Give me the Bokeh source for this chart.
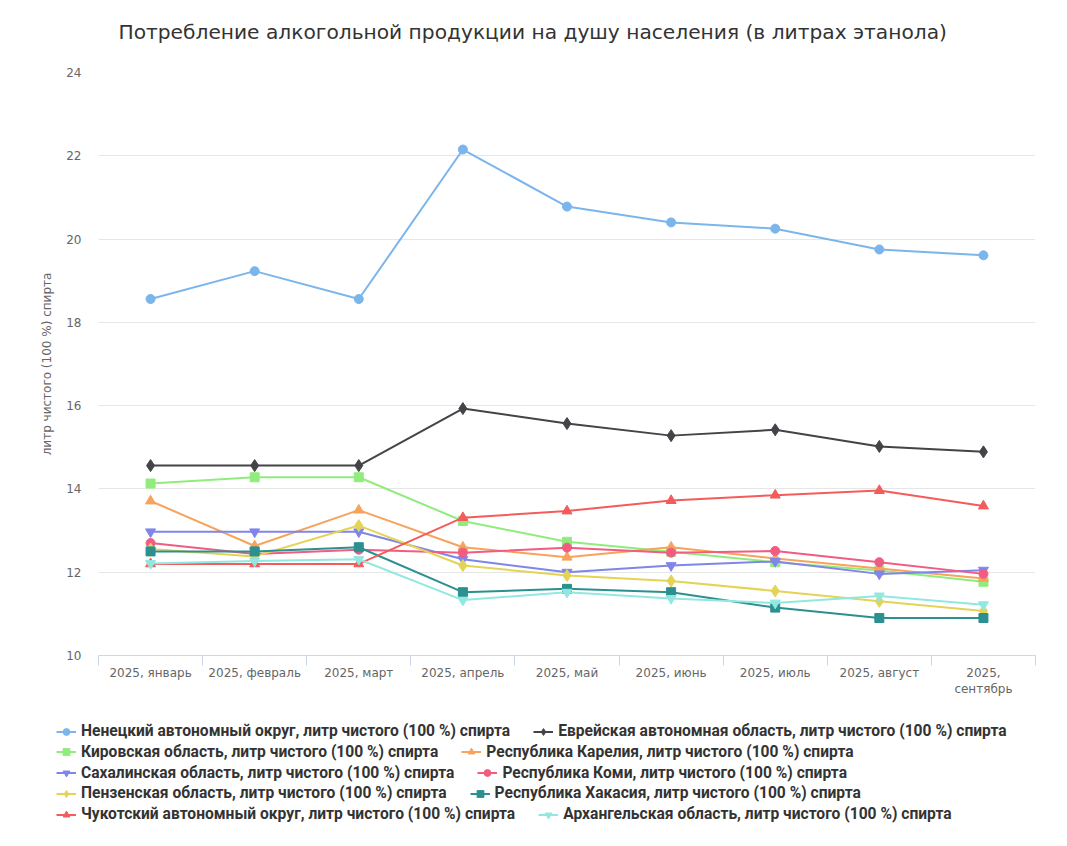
from bokeh.plotting import figure
from bokeh.models import Range1d, FixedTicker, Legend, LegendItem, ColumnDataSource
from bokeh.layouts import column
from bokeh.embed import file_html
from bokeh.resources import INLINE

# ---------------- data ----------------
months = ["2025, январь", "2025, февраль", "2025, март", "2025, апрель", "2025, май",
          "2025, июнь", "2025, июль", "2025, август", "2025,\nсентябрь"]

series_names = [
    "Ненецкий автономный округ, литр чистого (100 %) спирта",
    "Еврейская автономная область, литр чистого (100 %) спирта",
    "Кировская область, литр чистого (100 %) спирта",
    "Республика Карелия, литр чистого (100 %) спирта",
    "Сахалинская область, литр чистого (100 %) спирта",
    "Республика Коми, литр чистого (100 %) спирта",
    "Пензенская область, литр чистого (100 %) спирта",
    "Республика Хакасия, литр чистого (100 %) спирта",
    "Чукотский автономный округ, литр чистого (100 %) спирта",
    "Архангельская область, литр чистого (100 %) спирта",
]

nenets      = [18.56, 19.23, 18.56, 22.15, 20.78, 20.40, 20.25, 19.75, 19.61]
jewish      = [14.56, 14.56, 14.56, 15.93, 15.57, 15.28, 15.42, 15.02, 14.89]
kirov       = [14.13, 14.28, 14.28, 13.23, 12.73, 12.49, 12.24, 12.04, 11.77]
karelia     = [13.71, 12.63, 13.49, 12.60, 12.36, 12.60, 12.33, 12.09, 11.85]
sakhalin    = [12.97, 12.97, 12.97, 12.31, 12.00, 12.16, 12.26, 11.96, 12.05]
komi        = [12.70, 12.44, 12.54, 12.47, 12.59, 12.47, 12.51, 12.24, 11.96]
penza       = [12.56, 12.38, 13.12, 12.16, 11.92, 11.79, 11.55, 11.30, 11.07]
khakassia   = [12.50, 12.50, 12.60, 11.52, 11.60, 11.52, 11.15, 10.90, 10.90]
chukotka    = [12.20, 12.20, 12.20, 13.31, 13.47, 13.72, 13.85, 13.96, 13.59]
arkhangelsk = [12.21, 12.27, 12.31, 11.33, 11.52, 11.37, 11.26, 11.43, 11.22]

values = [nenets, jewish, kirov, karelia, sakhalin, komi, penza, khakassia, chukotka, arkhangelsk]

y_ticks = [10, 12, 14, 16, 18, 20, 22, 24]
title_text = "Потребление алкогольной продукции на душу населения (в литрах этанола)"
y_title = "литр чистого (100 %) спирта"

# ---------------- styles ----------------
colors = ["#7cb5ec", "#434348", "#90ed7d", "#f7a35c", "#8085e9",
          "#f15c80", "#e4d354", "#2b908f", "#f45b5b", "#91e8e1"]
markers = ["circle", "diamond", "square", "triangle", "inverted_triangle"] * 2
msizes = {"circle": 9, "diamond": 12, "square": 9, "triangle": 10, "inverted_triangle": 10}

W = 1060
H1 = 715                 # chart part
H2 = 125                 # legend strip
FL, FR, FT, FB = 98, 1035, 72, 655   # frame edges in page px

p = figure(width=W, height=H1, output_backend="svg", toolbar_location=None,
           x_range=Range1d(-0.5, len(months) - 0.5), y_range=Range1d(10, 24),
           min_border_left=FL, min_border_right=W - FR,
           min_border_top=FT, min_border_bottom=H1 - FB)
p.frame_align = False
p.outline_line_color = None
p.background_fill_color = "white"

# a blank second line lifts the title away from the plot area
p.title.text = title_text + "\n "
p.title.text_font = "DejaVu Sans"
p.title.text_font_size = "20.2px"
p.title.text_font_style = "normal"
p.title.text_color = "#333333"
p.title.text_line_height = 1.16
p.title.align = "left"
p.title.vertical_align = "middle"
p.title.offset = 20
p.title.standoff = 0

# x axis
xs = list(range(len(months)))
p.xaxis.ticker = FixedTicker(ticks=xs, minor_ticks=[i - 0.5 for i in range(len(months) + 1)])
p.xaxis.major_label_overrides = {i: m for i, m in enumerate(months)}
p.xaxis.major_tick_out = 0
p.xaxis.major_tick_in = 0
p.xaxis.minor_tick_out = 10
p.xaxis.minor_tick_in = 0
p.xaxis.minor_tick_line_color = "#ccd6eb"
p.xaxis.axis_line_color = "#ccd6eb"
p.xaxis.major_label_text_font = "DejaVu Sans"
p.xaxis.major_label_text_font_size = "12px"
p.xaxis.major_label_text_color = "#666666"
p.xaxis.major_label_standoff = 0
p.xgrid.grid_line_color = None

# y axis
p.yaxis.ticker = FixedTicker(ticks=y_ticks)
p.yaxis.axis_line_color = None
p.yaxis.major_tick_line_color = None
p.yaxis.minor_tick_line_color = None
p.yaxis.major_label_text_font = "DejaVu Sans"
p.yaxis.major_label_text_font_size = "12px"
p.yaxis.major_label_text_color = "#666666"
p.yaxis.major_label_standoff = 11
p.yaxis.axis_label = y_title
p.yaxis.axis_label_text_font = "DejaVu Sans"
p.yaxis.axis_label_text_font_size = "12px"
p.yaxis.axis_label_text_font_style = "normal"
p.yaxis.axis_label_text_color = "#666666"
p.yaxis.axis_label_standoff = 9
p.ygrid.grid_line_color = "#e6e6e6"
p.ygrid.grid_line_width = 1

sources = []
for vals, c, m in zip(values, colors, markers):
    src = ColumnDataSource(dict(x=xs, y=vals))
    sources.append(src)
    p.line("x", "y", source=src, line_color=c, line_width=2)
    p.scatter("x", "y", source=src, marker=m, size=msizes[m], fill_color=c, line_color=c)

# ---------------- legend strip ----------------
pl = figure(width=W, height=H2, output_backend="svg", toolbar_location=None,
            x_range=Range1d(0, 1), y_range=Range1d(0, 1),
            x_axis_type=None, y_axis_type=None,
            min_border_left=0, min_border_right=0, min_border_top=0, min_border_bottom=0)
pl.frame_align = False
pl.outline_line_color = None
pl.grid.grid_line_color = None

items = []
for name, src, c, m in zip(series_names, sources, colors, markers):
    lr = pl.line("x", "y", source=src, line_color=c, line_width=2, visible=False)
    sr = pl.scatter("x", "y", source=src, marker=m, size=msizes[m],
                    fill_color=c, line_color=c, visible=False)
    items.append(LegendItem(label=name, renderers=[lr, sr]))

row_centers = [731.7, 752.4, 773.1, 793.8, 814.5]   # page px
for r, yc in enumerate(row_centers):
    leg = Legend(items=items[2 * r:2 * r + 2], orientation="horizontal",
                 location=(56, H2 - (yc - H1) - 8.5))
    leg.padding = 0
    leg.margin = 0
    leg.spacing = 23
    leg.glyph_width = 20
    leg.glyph_height = 17
    leg.label_height = 17
    leg.label_standoff = 5
    leg.border_line_color = None
    leg.background_fill_alpha = 0
    leg.label_text_font = "Roboto"
    leg.label_text_font_size = "15.6px"
    leg.label_text_font_style = "bold"
    leg.label_text_color = "#333333"
    leg.label_text_baseline = "middle"
    pl.add_layout(leg, "center")

layout = column(p, pl, spacing=0)
open("out.html", "w").write(file_html(layout, INLINE))
